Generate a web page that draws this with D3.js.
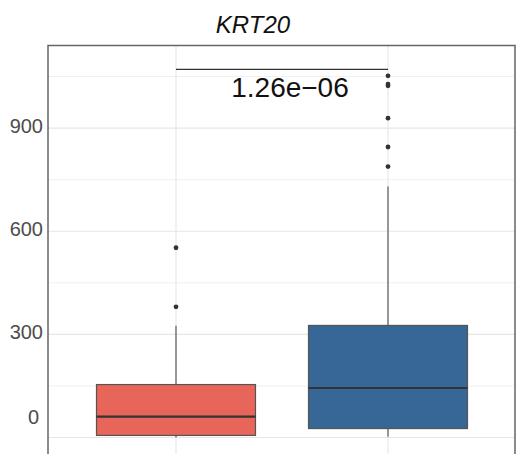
<!DOCTYPE html>
<meta charset="utf-8">
<head>
<style>
  body { margin: 0; background: #fff; }
  text { font-family: "Liberation Sans", Arial, sans-serif; }
</style>
</head>
<script src="https://d3js.org/d3.v7.min.js"></script>
<body>
<div id="my_dataviz"></div>
<script>
// box statistics
var groups = ["Group 1", "Group 2"];
var fills = ["#e8655a", "#366796"];
var lowWhisker = [0, 2];
var q1 = [6, 26];
var medians = [61, 144];
var q3 = [154, 326];
var highWhisker = [325, 730];
var outliers1 = [552, 380];
var outliers2 = [1052, 1028, 1023, 929, 845, 788];
var yTicks = [0, 300, 600, 900];
var yMinor = [150, 450, 750, 1050];
var pLabel = "1.26e\u221206";
var bracketValue = 1071;
var title = "KRT20";

var width = 521, height = 454;
var panel = {left: 48, right: 515, top: 45.6, bottom: 454};

var svg = d3.select("#my_dataviz")
  .append("svg")
    .attr("width", width)
    .attr("height", height);

var x = d3.scalePoint()
    .domain(groups)
    .range([176, 388]);

var y = d3.scaleLinear()
    .domain([-48, 1140])
    .range([panel.bottom, panel.top]);

var boxW = 159;

// grid
svg.append("g").selectAll("line.minor")
  .data(yMinor).enter().append("line")
    .attr("x1", panel.left).attr("x2", panel.right)
    .attr("y1", function(d) { return y(d); }).attr("y2", function(d) { return y(d); })
    .attr("stroke", "#f0f0f0").attr("stroke-width", 1);
svg.append("g").selectAll("line.major")
  .data(yTicks).enter().append("line")
    .attr("x1", panel.left).attr("x2", panel.right)
    .attr("y1", function(d) { return y(d); }).attr("y2", function(d) { return y(d); })
    .attr("stroke", "#e6e6e6").attr("stroke-width", 1.1);
svg.append("g").selectAll("line.xgrid")
  .data(groups).enter().append("line")
    .attr("x1", function(d) { return x(d); }).attr("x2", function(d) { return x(d); })
    .attr("y1", panel.top).attr("y2", panel.bottom)
    .attr("stroke", "#e6e6e6").attr("stroke-width", 1.1);

// y axis labels
var yAxis = svg.append("g")
    .attr("transform", "translate(" + panel.left + ",0)")
    .call(d3.axisLeft(y).tickValues(yTicks).tickSize(0).tickPadding(5));
yAxis.select(".domain").remove();
yAxis.selectAll("text")
    .style("font-size", "20px")
    .attr("fill", "#4d4d4d")
    .attr("dy", function(d) { return d === 0 ? "-0.72em" : "0.2em"; })
    .attr("dx", function(d) { return d === 0 ? "-4" : "0"; });

// boxes
var idx = d3.range(groups.length);
var boxes = svg.append("g").selectAll("g.box")
  .data(idx).enter().append("g").attr("class", "box");

boxes.append("line")
    .attr("x1", function(i) { return x(groups[i]); })
    .attr("x2", function(i) { return x(groups[i]); })
    .attr("y1", function(i) { return y(q3[i]); })
    .attr("y2", function(i) { return y(highWhisker[i]); })
    .attr("stroke", "#666").attr("stroke-width", 1.3);
boxes.append("line")
    .attr("x1", function(i) { return x(groups[i]); })
    .attr("x2", function(i) { return x(groups[i]); })
    .attr("y1", function(i) { return y(q1[i]); })
    .attr("y2", function(i) { return y(lowWhisker[i]); })
    .attr("stroke", "#666").attr("stroke-width", 1.3);
boxes.append("rect")
    .attr("x", function(i) { return x(groups[i]) - boxW / 2; })
    .attr("width", boxW)
    .attr("y", function(i) { return y(q3[i]); })
    .attr("height", function(i) { return y(q1[i]) - y(q3[i]); })
    .attr("fill", function(i) { return fills[i]; })
    .attr("stroke", "#555").attr("stroke-width", 1.2);
boxes.append("line")
    .attr("x1", function(i) { return x(groups[i]) - boxW / 2; })
    .attr("x2", function(i) { return x(groups[i]) + boxW / 2; })
    .attr("y1", function(i) { return y(medians[i]); })
    .attr("y2", function(i) { return y(medians[i]); })
    .attr("stroke", "#333").attr("stroke-width", 2.2);

// outliers
var pts = outliers1.map(function(v) { return {g: groups[0], v: v}; })
  .concat(outliers2.map(function(v) { return {g: groups[1], v: v}; }));
svg.append("g").selectAll("circle")
  .data(pts).enter().append("circle")
    .attr("cx", function(d) { return x(d.g); })
    .attr("cy", function(d) { return y(d.v); })
    .attr("r", 2.4)
    .attr("fill", "#333");

// significance bracket
svg.append("line")
    .attr("x1", x(groups[0])).attr("x2", x(groups[1]))
    .attr("y1", y(bracketValue)).attr("y2", y(bracketValue))
    .attr("stroke", "#333").attr("stroke-width", 1.3);
svg.append("text")
    .attr("x", 290)
    .attr("y", y(bracketValue) + 27.5)
    .attr("text-anchor", "middle")
    .style("font-size", "28px")
    .attr("fill", "#111")
    .text(pLabel);

// panel border
svg.append("path")
    .attr("d", "M" + panel.left + "," + (panel.bottom + 2) + "V" + panel.top + "H" + panel.right + "V" + (panel.bottom + 2))
    .attr("fill", "none")
    .attr("stroke", "#666").attr("stroke-width", 1.5);

// title
svg.append("text")
    .attr("x", 253)
    .attr("y", 33)
    .attr("text-anchor", "middle")
    .style("font-size", "24px")
    .style("font-style", "italic")
    .attr("fill", "#111")
    .text(title);
</script>
</body>
